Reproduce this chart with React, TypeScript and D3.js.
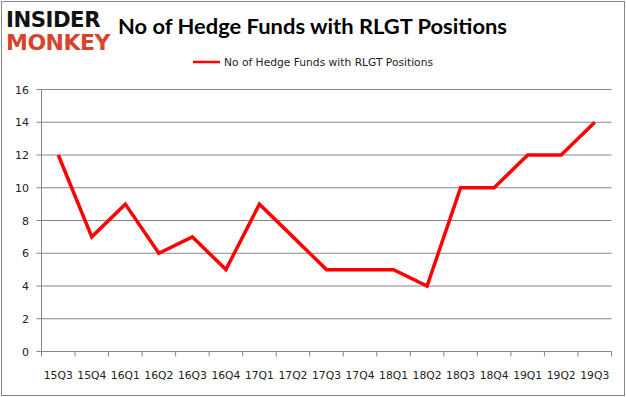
import React from "react";
import * as d3 from "d3";

const categories = ["15Q3","15Q4","16Q1","16Q2","16Q3","16Q4","17Q1","17Q2","17Q3","17Q4","18Q1","18Q2","18Q3","18Q4","19Q1","19Q2","19Q3"];
const values = [12,7,9,6,7,5,9,7,5,5,5,4,10,10,12,12,14];
const yTicks = [0,2,4,6,8,10,12,14,16];
const seriesName = "No of Hedge Funds with RLGT Positions";
const title = "No of Hedge Funds with RLGT Positions";

export default function App() {
  const W = 626, H = 397;
  const left = 41.5, right = 611.5, top = 89.5, bottom = 351.5;
  const x = d3.scaleBand<string>().domain(categories).range([left, right]);
  const y = d3.scaleLinear().domain([0, 16]).range([bottom, top]);
  const line = d3.line<number>()
    .x((_, i) => (x(categories[i]) as number) + x.bandwidth() / 2)
    .y((d) => y(d));
  const font = "'DejaVu Sans', 'Liberation Sans', sans-serif";
  return (
    <svg width={W} height={H} style={{ position: "absolute", left: 0, top: 0 }}>
      <rect x={0} y={0} width={W} height={H} fill="#fff" />
      <rect x={1.5} y={1.5} width={W - 3} height={H - 3} fill="none" stroke="#868686" strokeWidth={1} />
      {/* logo */}
      <text x={6} y={27} fontFamily="'DejaVu Sans', sans-serif" fontWeight="900" fontSize={22} fill="#111" letterSpacing={-0.5} textLength={94} lengthAdjust="spacingAndGlyphs">INSIDER</text>
      <text x={6} y={50} fontFamily="'DejaVu Sans', sans-serif" fontWeight="900" fontSize={22} fill="#d8432c" letterSpacing={-0.5} textLength={104} lengthAdjust="spacingAndGlyphs">MONKEY</text>
      <text x={118} y={34} fontFamily="Lato, 'Open Sans', sans-serif" fontWeight="bold" fontSize={21} fill="#000" textLength={389} lengthAdjust="spacingAndGlyphs">{title}</text>
      {/* legend */}
      <line x1={193} x2={220} y1={62} y2={62} stroke="#ff0000" strokeWidth={2.5} />
      <text x={224} y={66} fontFamily={font} fontSize={11} fill="#222" textLength={209} lengthAdjust="spacingAndGlyphs">{seriesName}</text>
      {/* gridlines */}
      {yTicks.map((t) => (
        <g key={t}>
          <line x1={left - 5} x2={right} y1={y(t)} y2={y(t)} stroke="#868686" strokeWidth={1} />
          <text x={29} y={y(t) + 4} textAnchor="end" fontFamily={font} fontSize={11} fill="#222">{t}</text>
        </g>
      ))}
      <line x1={left} x2={left} y1={top} y2={bottom} stroke="#868686" strokeWidth={1} />
      {categories.map((c, i) => (
        <g key={c}>
          <line x1={x(c) as number} x2={x(c) as number} y1={bottom} y2={bottom + 5} stroke="#868686" />
          <text x={(x(c) as number) + x.bandwidth() / 2} y={379} textAnchor="middle" fontFamily={font} fontSize={11} fill="#222" textLength={29} lengthAdjust="spacingAndGlyphs">{c}</text>
        </g>
      ))}
      <line x1={right} x2={right} y1={bottom} y2={bottom + 5} stroke="#868686" />
      <path d={line(values) || ""} fill="none" stroke="#ff0000" strokeWidth={3.5} strokeLinejoin="miter" />
    </svg>
  );
}
